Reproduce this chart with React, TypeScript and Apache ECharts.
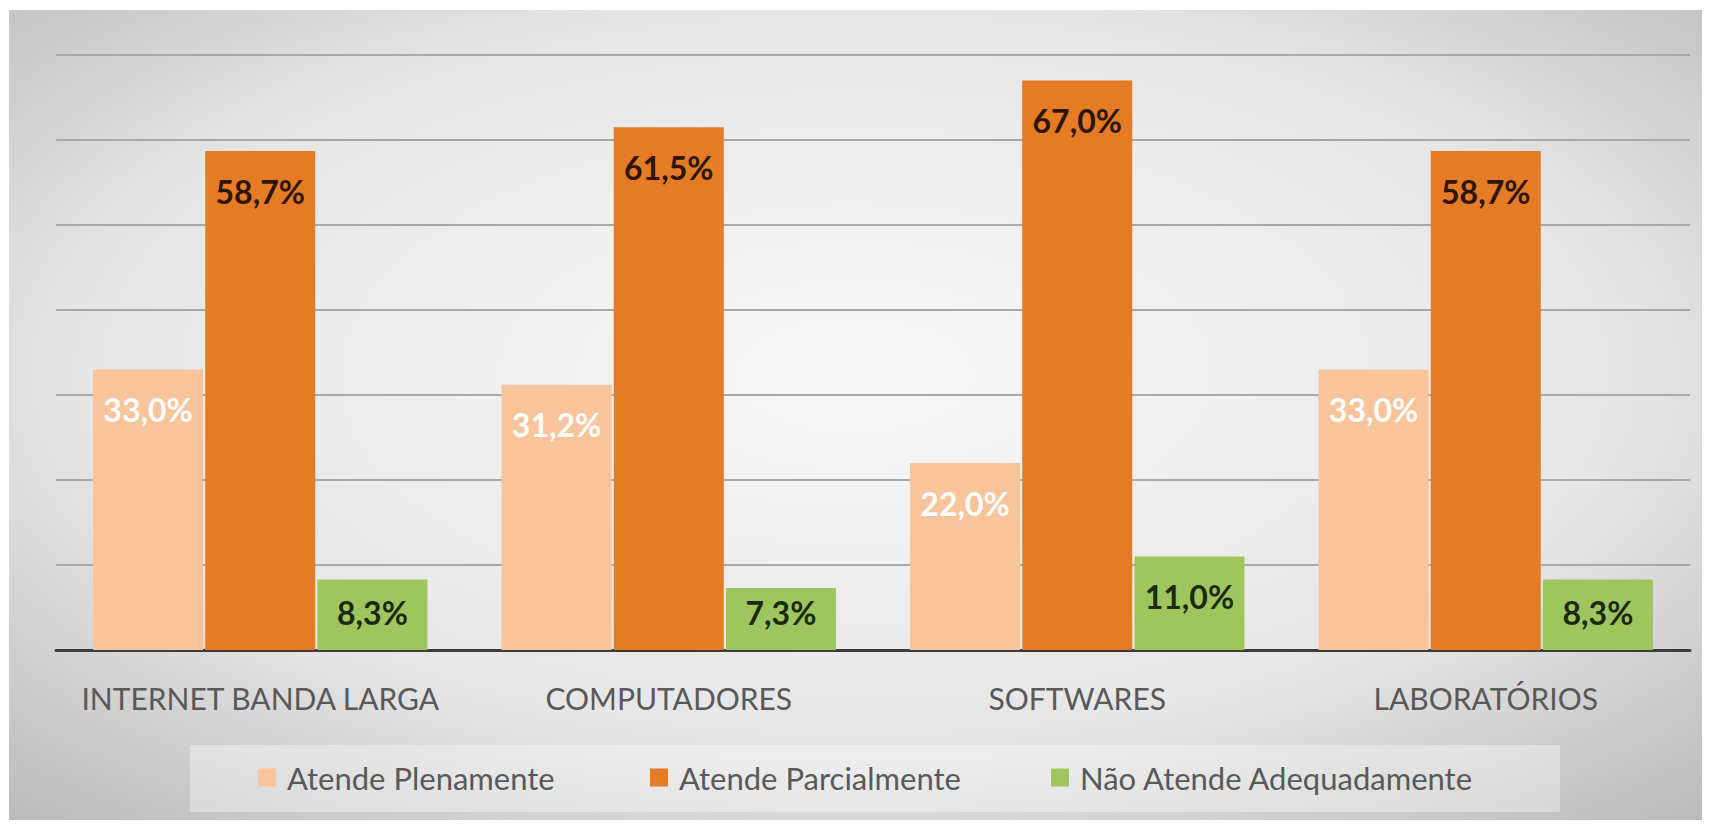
import React, { useEffect, useRef } from "react";
import * as echarts from "echarts";

const categories = ["INTERNET BANDA LARGA", "COMPUTADORES", "SOFTWARES", "LABORATÓRIOS"];
const seriesNames = ["Atende Plenamente", "Atende Parcialmente", "Não Atende Adequadamente"];
const plenamente = [33.0, 31.2, 22.0, 33.0];
const parcialmente = [58.7, 61.5, 67.0, 58.7];
const naoAtende = [8.3, 7.3, 11.0, 8.3];
const yTicks = { min: 0, max: 70, interval: 10 };

const colors = ["#f8c49b", "#e57b25", "#9fc55f"];
const labelColors = ["#ffffff", "#2e1500", "#1c2a0c"];

const fmt = (v: number) => v.toFixed(1).replace(".", ",") + "%";

export default function App() {
  const ref = useRef<HTMLDivElement>(null);
  useEffect(() => {
    document.body.style.margin = "0";
    if (!ref.current) return;
    const chart = echarts.init(ref.current, undefined, { renderer: "svg" });
    const values = [plenamente, parcialmente, naoAtende];
    const font = "Lato";
    const series = values.map((arr, si) => ({
      name: seriesNames[si],
      type: "bar",
      barWidth: 110,
      barGap: "2%",
      itemStyle: { color: colors[si] },
      data: arr.map((v) => {
        const small = si === 2 && v < 9.1;
        return {
          value: v,
          label: {
            position: small ? "insideBottom" : "insideTop",
            distance: small ? 22 : 24,
          },
        };
      }),
      label: {
        show: true,
        formatter: (p: any) => fmt(p.value),
        color: labelColors[si],
        fontFamily: font,
        fontWeight: "bold",
        fontSize: 32,
        lineHeight: 32,
      },
    }));
    const legendLefts = [253, 645, 1046];
    chart.setOption({
      animation: false,
      graphic: [
        {
          type: "rect",
          z: -10,
          silent: true,
          shape: { x: 9, y: 10, width: 1693, height: 810 },
          style: {
            fill: new echarts.graphic.RadialGradient(0.5, 0.45, 0.75, [
              { offset: 0, color: "#f8f8f8" },
              { offset: 0.6, color: "#e6e6e6" },
              { offset: 1, color: "#b9b9b9" },
            ]),
          },
        },
        {
          type: "rect",
          z: -9,
          silent: true,
          shape: { x: 190, y: 745, width: 1370, height: 67 },
          style: { fill: "rgba(255,255,255,0.35)" },
        },
      ],
      legend: seriesNames.map((n, i) => ({
        data: [n],
        left: legendLefts[i],
        top: 757,
        itemWidth: 18,
        itemHeight: 18,
        icon: "rect",
        textStyle: {
          color: "#595959",
          fontFamily: font,
          fontSize: 31,
          padding: [0, 0, 0, 6],
        },
      })),
      grid: { left: 56, right: 21, top: 55, bottom: 181 },
      xAxis: {
        type: "category",
        data: categories,
        axisLine: { lineStyle: { color: "#3d3d3d", width: 3 } },
        axisTick: { show: false },
        axisLabel: {
          interval: 0,
          color: "#595959",
          fontFamily: font,
          fontSize: 30,
          margin: 33,
        },
      },
      yAxis: {
        type: "value",
        min: yTicks.min,
        max: yTicks.max,
        interval: yTicks.interval,
        axisLabel: { show: false },
        axisLine: { show: false },
        axisTick: { show: false },
        splitLine: { lineStyle: { color: "#a8a8a8", width: 2 } },
      },
      series,
    });
    return () => chart.dispose();
  }, []);
  return <div ref={ref} style={{ width: 1711, height: 831 }} />;
}
